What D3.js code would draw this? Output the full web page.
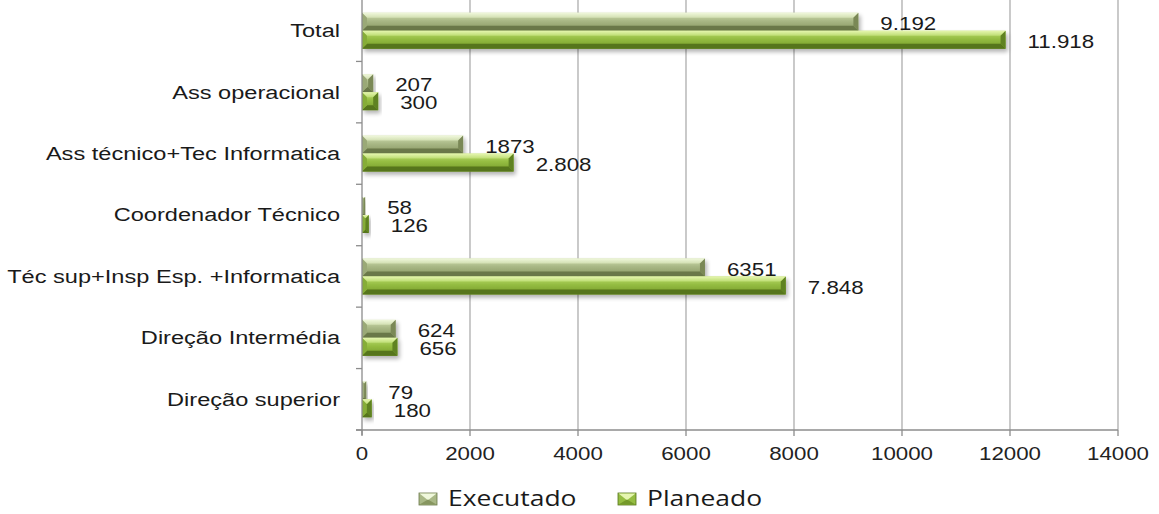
<!DOCTYPE html>
<html>
<head>
<meta charset="utf-8">
<script src="https://cdn.jsdelivr.net/npm/d3@7"></script>
<style>
  html, body { margin: 0; padding: 0; background: #fff; }
  svg { display: block; }
</style>
</head>
<body>
<svg id="chart" width="1159" height="514"></svg>
<script>
// Staff counts per category: executed vs. planned
const categories = [
  "Total",
  "Ass operacional",
  "Ass técnico+Tec Informatica",
  "Coordenador Técnico",
  "Téc sup+Insp Esp. +Informatica",
  "Direção Intermédia",
  "Direção superior"
];
const executado = [9192, 207, 1873, 58, 6351, 624, 79];
const planeado = [11918, 300, 2808, 126, 7848, 656, 180];
const executadoLabels = ["9.192", "207", "1873", "58", "6351", "624", "79"];
const planeadoLabels = ["11.918", "300", "2.808", "126", "7.848", "656", "180"];
const xTicks = [0, 2000, 4000, 6000, 8000, 10000, 12000, 14000];
const seriesNames = ["Executado", "Planeado"];

const svg = d3.select("#chart");
const plot = { left: 362, right: 1118, top: 0, bottom: 430 };
const stretch = 1.24;      // horizontal text stretch for numbers
const catStretch = 1.31;   // horizontal text stretch for category names

const x = d3.scaleLinear().domain([0, 14000]).range([plot.left, plot.right]);
const y = d3.scaleBand().domain(categories).range([plot.top, plot.bottom]);
const inner = d3.scaleBand().domain(seriesNames).range([0, 36]);
const innerOffset = (y.bandwidth() - 36) / 2;

// Colour sets for the bevelled bars
const palettes = {
  Executado: { top: "#f0f8dc", hi: "#d2dfb2", mid: "#a9b886", lo: "#86955f", bot: "#6a7849", side: "#9aa977", end: "#7a8857" },
  Planeado:  { top: "#e6f6b0", hi: "#bddd73", mid: "#95bd42", lo: "#74992a", bot: "#56741b", side: "#86ad37", end: "#5f8220" }
};

const defs = svg.append("defs");
Object.entries(palettes).forEach(([name, p]) => {
  const g = defs.append("linearGradient").attr("id", "grad-" + name)
    .attr("x1", 0).attr("y1", 0).attr("x2", 0).attr("y2", 1);
  g.append("stop").attr("offset", "0%").attr("stop-color", p.hi);
  g.append("stop").attr("offset", "45%").attr("stop-color", p.mid);
  g.append("stop").attr("offset", "100%").attr("stop-color", p.lo);
  const t = defs.append("linearGradient").attr("id", "top-" + name)
    .attr("x1", 0).attr("y1", 0).attr("x2", 0).attr("y2", 1);
  t.append("stop").attr("offset", "0%").attr("stop-color", p.top);
  t.append("stop").attr("offset", "100%").attr("stop-color", p.hi);
});
const shadow = defs.append("filter").attr("id", "shadow")
  .attr("x", "-10%").attr("y", "-50%").attr("width", "130%").attr("height", "220%");
shadow.append("feGaussianBlur").attr("in", "SourceAlpha").attr("stdDeviation", 2.2);
shadow.append("feOffset").attr("dx", 2).attr("dy", 3).attr("result", "off");
shadow.append("feComponentTransfer").append("feFuncA").attr("type", "linear").attr("slope", 0.3);
const merge = shadow.append("feMerge");
merge.append("feMergeNode");
merge.append("feMergeNode").attr("in", "SourceGraphic");

// Vertical gridlines
svg.append("g").selectAll("line").data(xTicks.filter(d => d > 0)).join("line")
  .attr("x1", d => x(d)).attr("x2", d => x(d))
  .attr("y1", plot.top).attr("y2", plot.bottom)
  .attr("stroke", "#a6a6a6").attr("stroke-width", 1.2);

// Bevelled bar: centre face plus four edge facets
function bevelBar(g, x0, y0, w, h, p, name) {
  const b = Math.min(5, w / 2, h / 2);
  const x1 = x0 + w, y1 = y0 + h;
  const grp = g.append("g").attr("filter", "url(#shadow)");
  grp.append("rect").attr("x", x0).attr("y", y0).attr("width", w).attr("height", h)
    .attr("fill", `url(#grad-${name})`);
  grp.append("polygon").attr("points", [[x0, y0], [x1, y0], [x1 - b, y0 + b], [x0 + b, y0 + b]].join(" "))
    .attr("fill", `url(#top-${name})`);
  grp.append("polygon").attr("points", [[x0, y1], [x1, y1], [x1 - b, y1 - b], [x0 + b, y1 - b]].join(" "))
    .attr("fill", p.bot);
  grp.append("polygon").attr("points", [[x0, y0], [x0 + b, y0 + b], [x0 + b, y1 - b], [x0, y1]].join(" "))
    .attr("fill", p.side);
  grp.append("polygon").attr("points", [[x1, y0], [x1 - b, y0 + b], [x1 - b, y1 - b], [x1, y1]].join(" "))
    .attr("fill", p.end);
}

const barsG = svg.append("g");
const seriesData = [
  { name: "Executado", values: executado, labels: executadoLabels },
  { name: "Planeado", values: planeado, labels: planeadoLabels }
];
seriesData.forEach(s => {
  categories.forEach((c, i) => {
    const y0 = y(c) + innerOffset + inner(s.name);
    const w = x(s.values[i]) - x(0);
    bevelBar(barsG, x(0), y0, w, inner.bandwidth(), palettes[s.name], s.name);
  });
});

// Value labels
const labelG = svg.append("g").attr("font-family", "'Liberation Sans', Arial, sans-serif")
  .attr("font-size", 18).attr("fill", "#1a1a1a");
seriesData.forEach(s => {
  categories.forEach((c, i) => {
    const cy = y(c) + innerOffset + inner(s.name) + inner.bandwidth() / 2 + 2;
    labelG.append("text")
      .attr("transform", `translate(${x(s.values[i]) + 22},${cy}) scale(${stretch},1)`)
      .attr("dominant-baseline", "central")
      .text(s.labels[i]);
  });
});

// Axes
const axisColor = "#8c8c8c";
svg.append("line").attr("x1", plot.left).attr("x2", plot.left)
  .attr("y1", plot.top).attr("y2", plot.bottom + 5).attr("stroke", axisColor).attr("stroke-width", 1.3);
svg.append("line").attr("x1", plot.left - 6).attr("x2", plot.right)
  .attr("y1", plot.bottom).attr("y2", plot.bottom).attr("stroke", axisColor).attr("stroke-width", 1.3);

// Category separator ticks on the vertical axis
const bandEdges = categories.map(c => y(c)).concat([plot.bottom]).filter(v => v > 1);
svg.append("g").selectAll("line").data(bandEdges).join("line")
  .attr("x1", plot.left - 6).attr("x2", plot.left)
  .attr("y1", d => d).attr("y2", d => d)
  .attr("stroke", axisColor).attr("stroke-width", 1.3);

// Value ticks on the horizontal axis
const xAxisG = svg.append("g");
xAxisG.selectAll("line").data(xTicks).join("line")
  .attr("x1", d => x(d)).attr("x2", d => x(d))
  .attr("y1", plot.bottom).attr("y2", plot.bottom + 6)
  .attr("stroke", axisColor).attr("stroke-width", 1.3);
xAxisG.selectAll("text").data(xTicks).join("text")
  .attr("transform", d => `translate(${x(d)},460) scale(${stretch},1)`)
  .attr("text-anchor", "middle")
  .attr("font-family", "'Liberation Sans', Arial, sans-serif")
  .attr("font-size", 18).attr("fill", "#222")
  .text(d => d);

// Category labels
svg.append("g").selectAll("text").data(categories).join("text")
  .attr("transform", d => `translate(340,${y(d) + y.bandwidth() / 2}) scale(${catStretch},1)`)
  .attr("text-anchor", "end").attr("dominant-baseline", "central")
  .attr("font-family", "'Liberation Sans', Arial, sans-serif")
  .attr("font-size", 18).attr("fill", "#1a1a1a")
  .text(d => d);

// Legend
const legendItems = [
  { name: "Executado", x: 419 },
  { name: "Planeado", x: 618 }
];
const legend = svg.append("g");
legendItems.forEach(item => {
  const p = palettes[item.name];
  const g = legend.append("g").attr("transform", `translate(${item.x},493)`);
  const w = 18, h = 12;
  g.append("rect").attr("width", w).attr("height", h).attr("fill", p.mid)
    .attr("stroke", p.bot).attr("stroke-width", 0.8);
  g.append("polygon").attr("points", [[0.5, 0.5], [w - 0.5, 0.5], [w / 2, h * 0.6]].join(" ")).attr("fill", p.top);
  g.append("polygon").attr("points", [[0.5, h - 0.5], [w - 0.5, h - 0.5], [w / 2, h * 0.55]].join(" ")).attr("fill", p.lo);
  legend.append("text")
    .attr("transform", `translate(${item.x + 29},506) scale(1.26,1)`)
    .attr("font-family", "'Open Sans', sans-serif")
    .attr("font-size", 21).attr("fill", "#1a1a1a")
    .text(item.name);
});
</script>
</body>
</html>
